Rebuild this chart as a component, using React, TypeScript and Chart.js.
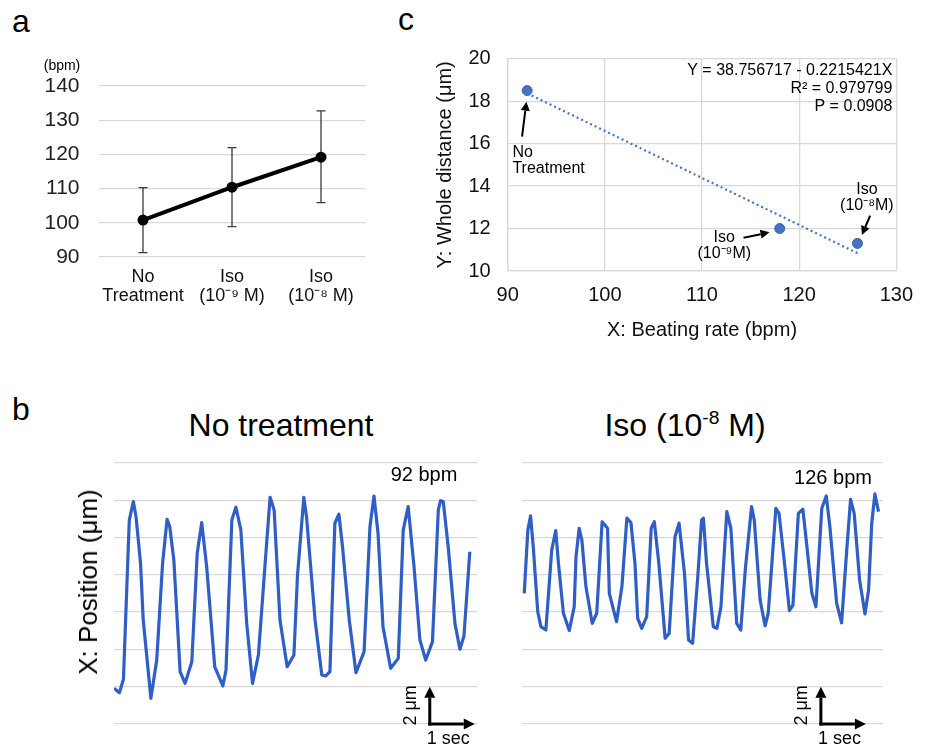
import React, { useEffect, useRef } from "react";
import { Chart, registerables } from "chart.js";
Chart.register(...registerables);

const FONT = "'Liberation Sans', Arial, Helvetica, sans-serif";
const GRID = "#d9d9d9";
Chart.defaults.font.family = FONT;
Chart.defaults.color = "#000";

// ---------- Panel a : beating rate ----------
const rateCategories = [["No", "Treatment"], ["Iso", "(10⁻⁹ M)"], ["Iso", "(10⁻⁸ M)"]];
const rateMean = [100.8, 110.4, 119.2];
const rateLower = [91.3, 98.9, 105.9];
const rateUpper = [110.3, 122.0, 132.7];
const rateMin = 90;
const rateMax = 140;
const rateStep = 10;

// ---------- Panel c : distance vs rate ----------
const beatRate = [92, 118, 126];
const wholeDistance = [18.5, 12.0, 11.3];
const pointNames = [["No", "Treatment"], ["Iso", "(10⁻⁹M)"], ["Iso", "(10⁻⁸M)"]];
const trendRate = [92, 126];
const trendDistance = [18.37, 10.84];
const fitText = ["Y = 38.756717 - 0.2215421X", "R² = 0.979799", "P = 0.0908"];
const rateXTicks = [90, 130, 10];
const distYTicks = [10, 20, 2];

// ---------- Panel b : position traces ----------
const noTreatTime = [0.00,0.12,0.21,0.34,0.43,0.49,0.59,0.65,0.82,0.95,1.08,1.18,1.24,1.33,1.47,1.58,1.73,1.85,1.95,2.06,2.24,2.42,2.49,2.62,2.71,2.82,2.95,3.08,3.21,3.36,3.47,3.56,3.69,3.85,4.00,4.08,4.22,4.28,4.47,4.62,4.71,4.80,4.91,5.00,5.08,5.23,5.38,5.56,5.69,5.78,5.87,5.98,6.15,6.32,6.43,6.54,6.67,6.80,6.93,7.08,7.21,7.26,7.32,7.43,7.58,7.69,7.78,7.91];
const noTreatPos = [1.92,1.68,2.40,10.94,11.93,11.12,8.62,5.58,1.38,3.43,8.62,10.98,10.58,8.80,2.81,2.18,3.34,9.16,10.80,8.44,3.07,2.04,2.90,10.94,11.63,10.41,5.40,2.18,3.70,8.62,12.16,11.48,5.58,3.07,3.70,7.99,12.16,11.12,5.58,2.63,2.58,2.81,10.77,11.25,9.51,5.58,2.75,3.88,10.58,12.23,10.23,5.22,2.99,3.52,10.41,11.66,8.44,4.51,3.43,4.42,11.48,11.98,11.93,9.51,5.40,4.01,4.72,9.24];
const isoTime = [0.05,0.13,0.19,0.25,0.35,0.42,0.53,0.66,0.75,0.81,0.92,1.05,1.16,1.20,1.27,1.33,1.42,1.56,1.66,1.78,1.90,1.94,2.10,2.22,2.33,2.42,2.51,2.57,2.66,2.77,2.87,2.94,3.04,3.18,3.27,3.40,3.49,3.61,3.70,3.79,3.90,3.99,4.03,4.10,4.25,4.33,4.42,4.55,4.64,4.77,4.86,4.96,5.10,5.16,5.29,5.40,5.47,5.64,5.71,5.84,5.94,6.02,6.14,6.24,6.33,6.44,6.53,6.66,6.76,6.84,6.99,7.10,7.22,7.30,7.38,7.50,7.62,7.70,7.77,7.84,7.92];
const isoPos = [7.01,10.41,11.16,9.51,6.02,5.22,5.04,9.33,10.37,8.62,5.94,5.01,6.29,8.98,10.50,9.87,7.37,5.40,5.94,10.85,10.50,7.01,5.49,7.37,11.04,10.80,8.62,5.67,5.13,5.76,10.50,10.85,8.62,4.60,4.87,10.05,10.77,8.08,4.51,4.33,7.73,10.94,11.04,8.62,5.22,5.13,6.29,11.39,10.50,5.40,5.04,8.26,11.66,10.94,6.65,5.27,5.94,11.57,11.30,8.44,6.08,6.38,11.30,11.52,9.51,7.01,6.29,11.57,12.23,10.58,6.48,5.43,9.51,12.05,11.30,7.73,5.90,7.19,10.77,12.34,11.39];
const noTreatSpan = 8.07;
const isoSpan = 8.02;
const posRange = [0, 14, 2];
const scaleBarStartNoTreat = 7.02;
const scaleBarStartIso = 6.64;
const scaleBarSec = 1;
const scaleBarUm = 2;

function drawArrow(ctx: CanvasRenderingContext2D, x1: number, y1: number, x2: number, y2: number, head: number, width: number) {
  const ang = Math.atan2(y2 - y1, x2 - x1);
  const bx = x2 - head * Math.cos(ang);
  const by = y2 - head * Math.sin(ang);
  ctx.beginPath();
  ctx.moveTo(x1, y1);
  ctx.lineTo(bx, by);
  ctx.lineWidth = width;
  ctx.stroke();
  const hw = head * 0.5;
  ctx.beginPath();
  ctx.moveTo(x2, y2);
  ctx.lineTo(bx + hw * Math.sin(ang), by - hw * Math.cos(ang));
  ctx.lineTo(bx - hw * Math.sin(ang), by + hw * Math.cos(ang));
  ctx.closePath();
  ctx.fill();
}

const noPlugins = { legend: { display: false }, tooltip: { enabled: false } };
const HIDDEN = "rgba(0,0,0,0)";

function makeRateChart(): any {
  const errorBars = {
    id: "errorBars",
    beforeDatasetsDraw(chart: any) {
      const { ctx } = chart;
      const y = chart.scales.y;
      const meta = chart.getDatasetMeta(0);
      ctx.save();
      ctx.strokeStyle = "#3a3a3a";
      ctx.lineWidth = 1.3;
      meta.data.forEach((pt: any, i: number) => {
        const x = pt.x;
        const yl = y.getPixelForValue(rateLower[i]);
        const yu = y.getPixelForValue(rateUpper[i]);
        ctx.beginPath();
        ctx.moveTo(x, yl); ctx.lineTo(x, yu);
        ctx.moveTo(x - 4.5, yl); ctx.lineTo(x + 4.5, yl);
        ctx.moveTo(x - 4.5, yu); ctx.lineTo(x + 4.5, yu);
        ctx.stroke();
      });
      ctx.restore();
    },
  };
  return {
    type: "line",
    data: {
      labels: rateCategories,
      datasets: [{
        data: rateMean,
        borderColor: "#000",
        borderWidth: 4,
        pointRadius: 5.5,
        pointBackgroundColor: "#000",
        pointBorderWidth: 0,
        tension: 0,
      }],
    },
    options: {
      responsive: false,
      animation: false,
      layout: { padding: { left: 0, right: 14.5, top: 46, bottom: 0 } },
      plugins: noPlugins,
      scales: {
        x: {
          type: "category",
          offset: true,
          grid: { display: false, drawTicks: false },
          border: { display: false },
          ticks: { font: { size: 18, lineHeight: 1.05 }, color: "#111", padding: 11, maxRotation: 0, autoSkip: false },
          afterFit: (s: any) => { s.height = 63; },
        },
        y: {
          min: rateMin,
          max: rateMax,
          ticks: { stepSize: rateStep, font: { size: 21 }, color: "#222", padding: 0 },
          grid: { color: GRID, lineWidth: 1.3, drawTicks: true, tickLength: 19, tickColor: HIDDEN },
          border: { display: false },
          afterFit: (s: any) => { s.width = 98.5; },
        },
      },
    },
    plugins: [errorBars],
  };
}

function makeScatterChart(): any {
  const notes = {
    id: "notes",
    afterDraw(chart: any) {
      const { ctx, chartArea } = chart;
      const xs = chart.scales.x;
      const ys = chart.scales.y;
      ctx.save();
      ctx.fillStyle = "#000";
      ctx.strokeStyle = "#000";
      ctx.font = `16px ${FONT}`;
      ctx.textBaseline = "middle";
      ctx.textAlign = "right";
      fitText.forEach((t, i) => ctx.fillText(t, chartArea.right - 4, chartArea.top + 12.3 + i * 18));
      const layout = [
        { align: "left", tx: -14.7, ty: 62.2, a: [-5.1, 46.2, -0.7, 11.2] },
        { align: "center", tx: -55.5, ty: 9.5, a: [-36.2, 9.2, -10.2, 3.8] },
        { align: "center", tx: 9.4, ty: -53.4, a: [12.7, -27.7, 4.4, -8.4] },
      ];
      beatRate.forEach((r, i) => {
        const px = xs.getPixelForValue(r);
        const py = ys.getPixelForValue(wholeDistance[i]);
        const L = layout[i];
        ctx.textAlign = L.align;
        pointNames[i].forEach((line, j) => ctx.fillText(line, px + L.tx, py + L.ty + j * 15.5));
        drawArrow(ctx, px + L.a[0], py + L.a[1], px + L.a[2], py + L.a[3], 9, 2);
      });
      ctx.restore();
    },
  };
  return {
    type: "scatter",
    data: {
      datasets: [
        {
          data: beatRate.map((x, i) => ({ x, y: wholeDistance[i] })),
          pointRadius: 5,
          pointBackgroundColor: "#4472C4",
          pointBorderColor: "#3a64b4",
          pointBorderWidth: 1,
        },
        {
          data: trendRate.map((x, i) => ({ x, y: trendDistance[i] })),
          showLine: true,
          borderColor: "#4472C4",
          borderWidth: 2.2,
          borderDash: [2, 3],
          pointRadius: 0,
        },
      ],
    },
    options: {
      responsive: false,
      animation: false,
      layout: { padding: { left: 0, right: 23.3, top: 18.7, bottom: 0 } },
      plugins: noPlugins,
      scales: {
        x: {
          type: "linear",
          min: rateXTicks[0],
          max: rateXTicks[1],
          ticks: { stepSize: rateXTicks[2], font: { size: 20 }, color: "#111", padding: 12 },
          grid: { color: GRID, lineWidth: 1.3, drawTicks: false },
          border: { color: GRID, width: 1.3 },
          title: { display: true, text: "X: Beating rate (bpm)", font: { size: 20 }, color: "#111", padding: { top: 0, bottom: 7 } },
          afterFit: (s: any) => { s.height = 78; },
        },
        y: {
          min: distYTicks[0],
          max: distYTicks[1],
          ticks: { stepSize: distYTicks[2], font: { size: 20 }, color: "#111", padding: 0 },
          grid: { color: GRID, lineWidth: 1.3, drawTicks: true, tickLength: 17, tickColor: HIDDEN },
          border: { color: GRID, width: 1.3 },
          title: { display: true, text: "Y: Whole distance (μm)", font: { size: 20 }, color: "#111", padding: { top: 33, bottom: 0 } },
          afterFit: (s: any) => { s.width = 107.7; },
        },
      },
    },
    plugins: [notes],
  };
}

function makeTraceChart(time: number[], pos: number[], span: number, barStart: number, padL: number, padR: number): any {
  const scaleBar = {
    id: "scaleBar",
    afterDraw(chart: any) {
      const { ctx } = chart;
      const xs = chart.scales.x;
      const ys = chart.scales.y;
      const x0 = xs.getPixelForValue(barStart);
      const x1 = xs.getPixelForValue(barStart + scaleBarSec);
      const y0 = ys.getPixelForValue(0);
      const y1 = ys.getPixelForValue(scaleBarUm);
      ctx.save();
      ctx.fillStyle = "#000";
      ctx.strokeStyle = "#000";
      ctx.lineCap = "butt";
      drawArrow(ctx, x0, y0 + 1.5, x0, y1, 11, 3);
      drawArrow(ctx, x0 - 1.5, y0, x1, y0, 11, 3);
      ctx.font = `18px ${FONT}`;
      ctx.textBaseline = "middle";
      ctx.textAlign = "left";
      ctx.fillText("1 sec", x0 - 3, y0 + 15);
      ctx.translate(x0 - 19, (y0 + y1) / 2);
      ctx.rotate(-Math.PI / 2);
      ctx.textAlign = "center";
      ctx.fillText("2 μm", 0, 0);
      ctx.restore();
    },
  };
  return {
    type: "line",
    data: {
      datasets: [{
        data: time.map((t, i) => ({ x: t, y: pos[i] })),
        borderColor: "#2F5EC4",
        borderWidth: 3.2,
        pointRadius: 0,
        tension: 0,
        borderJoinStyle: "round",
      }],
    },
    options: {
      responsive: false,
      animation: false,
      layout: { padding: { left: padL, right: padR, top: 8, bottom: 25 } },
      plugins: noPlugins,
      scales: {
        x: { type: "linear", min: 0, max: span, display: false },
        y: {
          min: posRange[0],
          max: posRange[1],
          ticks: { stepSize: posRange[2], display: false },
          grid: { color: GRID, lineWidth: 1.3, drawTicks: false },
          border: { display: false },
          afterFit: (s: any) => { s.width = 0; },
        },
      },
    },
    plugins: [scaleBar],
  };
}

function ChartCanvas({ left, top, width, height, make }: any) {
  const ref = useRef<HTMLCanvasElement>(null);
  useEffect(() => {
    const chart = new Chart(ref.current as HTMLCanvasElement, make());
    return () => chart.destroy();
  }, []);
  return (
    <canvas
      ref={ref}
      width={width}
      height={height}
      style={{ position: "absolute", left, top, width, height }}
    />
  );
}

function Label({ x, y, size, children, rotate = 0, align = "center", color = "#000" }: any) {
  const tx = align === "center" ? "-50%" : align === "right" ? "-100%" : "0";
  return (
    <div
      style={{
        position: "absolute",
        left: x,
        top: y,
        fontSize: size,
        lineHeight: 1,
        whiteSpace: "nowrap",
        fontFamily: FONT,
        color,
        transform: `translate(${tx}, -50%) rotate(${rotate}deg)`,
      }}
    >
      {children}
    </div>
  );
}

const sup: any = { fontSize: "0.6em", position: "relative", top: "-0.65em" };

export default function App() {
  return (
    <div style={{ position: "absolute", left: 0, top: 0, width: 925, height: 749, background: "#fff", overflow: "hidden" }}>
      <ChartCanvas left={0} top={40} width={380} height={280} make={makeRateChart} />
      <ChartCanvas left={400} top={40} width={525} height={309} make={makeScatterChart} />
      <ChartCanvas
        left={100}
        top={455}
        width={385}
        height={294}
        make={() => makeTraceChart(noTreatTime, noTreatPos, noTreatSpan, scaleBarStartNoTreat, 14, 8)}
      />
      <ChartCanvas
        left={510}
        top={455}
        width={385}
        height={294}
        make={() => makeTraceChart(isoTime, isoPos, isoSpan, scaleBarStartIso, 12, 12)}
      />
      <Label x={21} y={21} size={32}>a</Label>
      <Label x={406} y={19} size={32}>c</Label>
      <Label x={21} y={409} size={32}>b</Label>
      <Label x={62} y={65} size={14}>(bpm)</Label>
      <Label x={281} y={425} size={32}>No treatment</Label>
      <Label x={685} y={425} size={32}>
        Iso (10<span style={sup}>-8</span> M)
      </Label>
      <Label x={88} y={582} size={26} rotate={-90}>X: Position (μm)</Label>
      <Label x={424} y={474} size={20}>92 bpm</Label>
      <Label x={833} y={477} size={20}>126 bpm</Label>
    </div>
  );
}
